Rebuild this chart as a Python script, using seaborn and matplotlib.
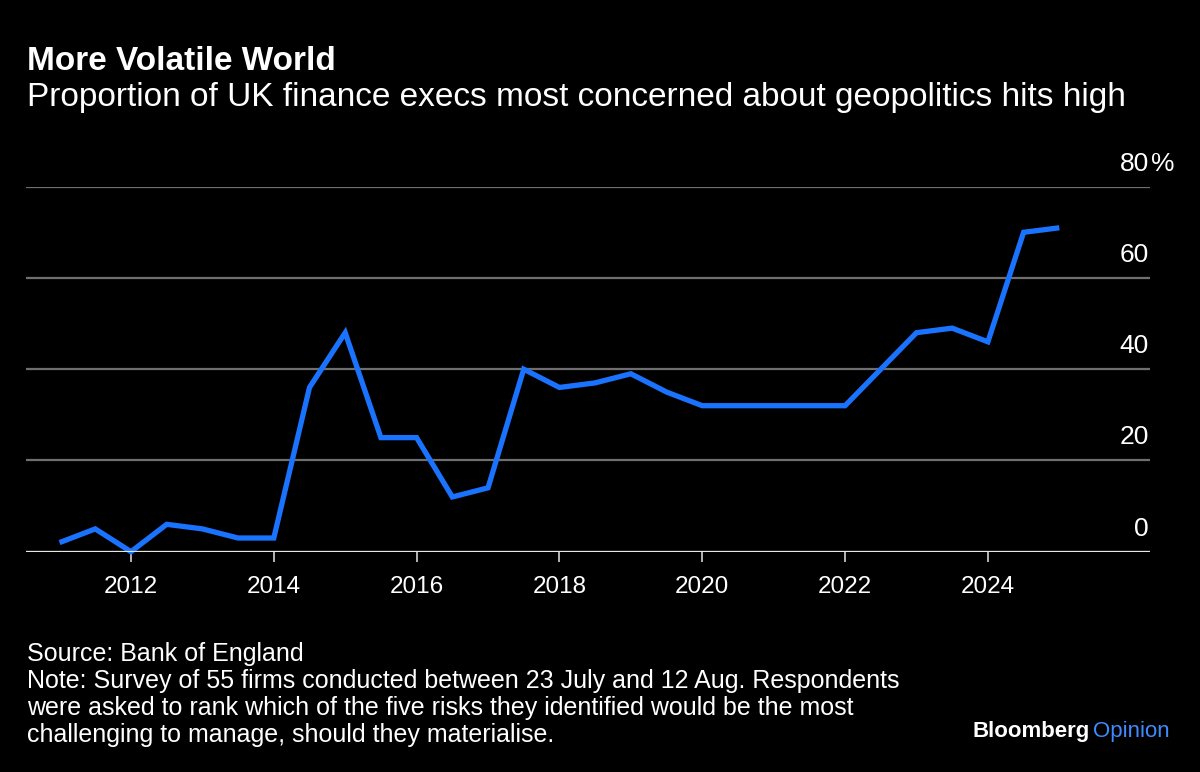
import matplotlib
matplotlib.use("Agg")
import matplotlib.pyplot as plt
import matplotlib.transforms as mtransforms
import seaborn as sns
import pandas as pd

# Data (semi-annual survey, % of execs)
years = [2011, 2011.5, 2012, 2012.5, 2013, 2013.5, 2014, 2014.5, 2015, 2015.5,
         2016, 2016.5, 2017, 2017.5, 2018, 2018.5, 2019, 2019.5, 2020, 2020.5,
         2021, 2021.5, 2022, 2022.5, 2023, 2023.5, 2024, 2024.5, 2025]
share = [2, 5, 0, 6, 5, 3, 3, 36, 48, 25,
         25, 12, 14, 40, 36, 37, 39, 35, 32, 32,
         32, 32, 32, 40, 48, 49, 46, 70, 71]
x_ticks = [2012, 2014, 2016, 2018, 2020, 2022, 2024]
y_ticks = [0, 20, 40, 60, 80]

title = "More Volatile World"
subtitle = "Proportion of UK finance execs most concerned about geopolitics hits high"
footer = [
    "Source: Bank of England",
    "Note: Survey of 55 firms conducted between 23 July and 12 Aug. Respondents",
    "were asked to rank which of the five risks they identified would be the most",
    "challenging to manage, should they materialise.",
]

BG = "#000000"
BLUE = "#1a73ff"

sns.set_theme(style="dark")
plt.rcParams["font.family"] = ["Liberation Sans", "DejaVu Sans"]
plt.rcParams["text.color"] = "white"

df = pd.DataFrame({"year": years, "share": share})

fig = plt.figure(figsize=(12, 7.72), dpi=100, facecolor=BG)
ax = fig.add_axes([26 / 1200, 1 - 551.7 / 772, (1150 - 26) / 1200, (551.7 - 186.7) / 772])
ax.set_facecolor(BG)

sns.lineplot(data=df, x="year", y="share", ax=ax, color=BLUE, linewidth=3.8,
             solid_joinstyle="miter", solid_capstyle="butt", clip_on=False)

ax.set_xlim(2010.53, 2026.27)
ax.set_ylim(0, 80)
ax.set_xlabel("")
ax.set_ylabel("")

for s in ax.spines.values():
    s.set_visible(False)

ax.set_yticks(y_ticks)
ax.set_yticklabels([])
ax.tick_params(axis="y", length=0)
ax.grid(axis="y", color="#6f6f6f", linewidth=1.6)
ax.grid(axis="x", visible=False)
ax.axhline(0, color="#e6e6e6", linewidth=1.6, zorder=3)

ax.set_xticks(x_ticks)
ax.set_xticklabels([str(t) for t in x_ticks])
ax.tick_params(axis="x", direction="out", length=7.5, width=1.1, color="#e6e6e6",
               labelcolor="white", labelsize=17.5, pad=10, bottom=True)

# y labels sit above the grid lines on the right
ytrans = mtransforms.offset_copy(ax.get_yaxis_transform(), fig=fig, x=-1, y=16, units="dots")
ptrans = mtransforms.offset_copy(ax.get_yaxis_transform(), fig=fig, x=1, y=16, units="dots")
for v in y_ticks:
    ax.text(1.0, v, str(v), transform=ytrans, ha="right", va="baseline",
            fontsize=19, color="white")
ax.text(1.0, y_ticks[-1], "%", transform=ptrans, ha="left", va="baseline",
        fontsize=19, color="white")

fig.text(27 / 1200, 1 - 70 / 772, title, fontsize=24, fontweight="bold",
         ha="left", va="baseline")
fig.text(27 / 1200, 1 - 106 / 772, subtitle, fontsize=24,
         ha="left", va="baseline")

for i, line in enumerate(footer):
    fig.text(27 / 1200, 1 - (660.7 + 27 * i) / 772, line, fontsize=18,
             ha="left", va="baseline")

b = fig.text(972 / 1200, 1 - 737 / 772, "Bloomberg", fontsize=16, fontweight="bold",
             ha="left", va="baseline", color="white")
fig.canvas.draw()
bb = b.get_window_extent()
fig.text((bb.x1 + 4) / 1200, 1 - 737 / 772, "Opinion", fontsize=16,
         ha="left", va="baseline", color="#3d8bff")

fig.savefig("out.png", dpi=100, facecolor=BG)
